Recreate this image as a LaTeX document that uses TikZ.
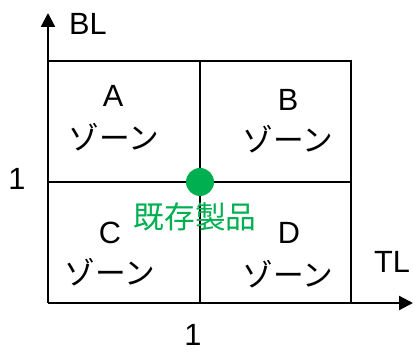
\documentclass[tikz,border=0pt]{standalone}
\usepackage{fontspec}
\setmainfont{Liberation Sans}
\newfontfamily\jp{Noto Sans CJK JP}
\usetikzlibrary{arrows.meta}
\definecolor{kizongreen}{HTML}{00B050}

\begin{document}
\begin{tikzpicture}[x=1pt,y=-1pt,line width=2.2pt,inner sep=0pt,
    font=\fontsize{30.7}{34}\selectfont]
    \useasboundingbox (0,0) rectangle (413,352);
    \coordinate (o) at (48,303);
    \coordinate (ytip) at (48,13);
    \coordinate (xtip) at (413,303);
    \draw[-{Triangle[length=14pt,width=14pt]}] (o) -- (ytip);
    \draw[-{Triangle[length=14pt,width=14pt]}] (o) -- (xtip);
    \draw (48,61) -- (351,61) -- (351,303);
    \draw (48,182) -- (351,182);
    \draw (200,61) -- (200,303);
    \node (a) at (113,96) {A};
    \node (azone) at (114,137) {\jp ゾーン};
    \node (b) at (288,100) {B};
    \node (bzone) at (288,139) {\jp ゾーン};
    \node (c) at (110,233) {C};
    \node (czone) at (110,272) {\jp ゾーン};
    \node (d) at (289,233) {D};
    \node (dzone) at (288,274) {\jp ゾーン};
    \fill[kizongreen] (200,182) circle (14);
    \node[text=kizongreen] (kizon) at (195,217) {\jp 既存製品};
    \node (bl) at (88,24) {BL};
    \node (tl) at (392,262) {TL};
    \node (onebl) at (17,179) {1};
    \node (onetl) at (193,335) {1};
  \end{tikzpicture}
\end{document}
